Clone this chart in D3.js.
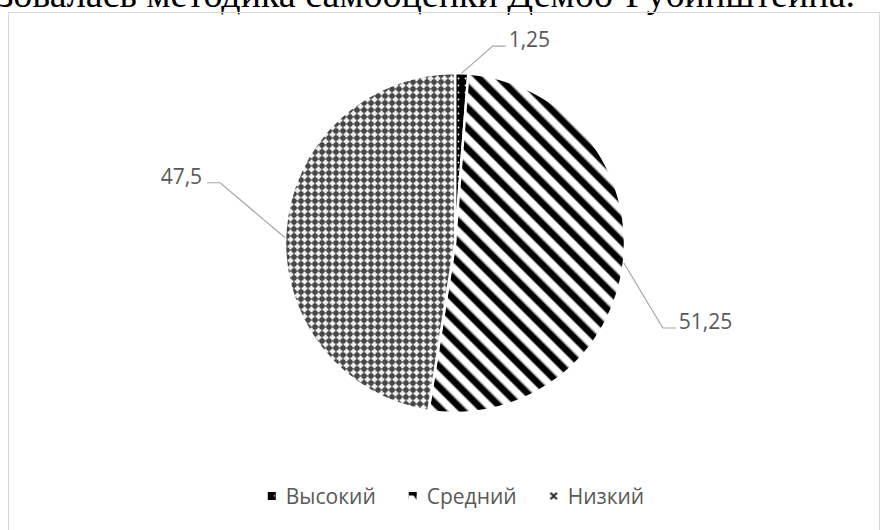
<!DOCTYPE html>
<html><head><meta charset="utf-8">
<script src="https://cdn.jsdelivr.net/npm/d3@7"></script>
<style>html,body{margin:0;padding:0;background:#fff;overflow:hidden}</style>
</head><body>
<svg id="chart" width="884" height="530"></svg>
<script>
// ---- data ----
const categories = ["Высокий", "Средний", "Низкий"];
const values = [1.25, 51.25, 47.5];
const titleText = "зовалась методика самооценки Дембо-Рубинштейна.";

// ---- layout / style ----
const W = 884, H = 530;
const cx = 455, cy = 243, R = 170;
const anchorFrac = [0.5, 0.5, 0.484];          // where on each slice's rim the leader starts
const labelOffsets = [[31, -27], [39, 65], [-65, -55]];
const textColor = "#595959";
const labelFont = "'Open Sans', 'Noto Sans', sans-serif";
const fmt = v => String(v).replace(".", ",");

const svg = d3.select("#chart");
svg.append("rect").attr("width", W).attr("height", H).attr("fill", "#fff");

// patterns
const defs = svg.append("defs");
// Высокий: black with white dots
const pHigh = defs.append("pattern").attr("id", "p0").attr("patternUnits", "userSpaceOnUse")
  .attr("width", 7).attr("height", 7);
pHigh.append("rect").attr("width", 7).attr("height", 7).attr("fill", "#000");
pHigh.append("circle").attr("cx", 3.5).attr("cy", 3.5).attr("r", 0.9).attr("fill", "#fff");
// Средний: wide downward diagonal stripes
const pMid = defs.append("pattern").attr("id", "p1").attr("patternUnits", "userSpaceOnUse")
  .attr("width", 14.5).attr("height", 14.5).attr("patternTransform", "rotate(-45)");
pMid.append("rect").attr("width", 14.5).attr("height", 14.5).attr("fill", "#fff");
pMid.append("rect").attr("x", 0).attr("width", 6.3).attr("height", 14.5).attr("fill", "#000");
pMid.append("rect").attr("x", 6.3).attr("width", 0.8).attr("height", 14.5).attr("fill", "#777");
pMid.append("rect").attr("x", 13.7).attr("width", 0.8).attr("height", 14.5).attr("fill", "#777");
// Низкий: white crosses on dark
const pLow = defs.append("pattern").attr("id", "p2").attr("patternUnits", "userSpaceOnUse")
  .attr("width", 7).attr("height", 7);
pLow.append("rect").attr("width", 7).attr("height", 7).attr("fill", "#464646");
pLow.append("rect").attr("x", 0.7).attr("y", 2.35).attr("width", 5.6).attr("height", 2.3).attr("fill", "#f6f6f6");
pLow.append("rect").attr("x", 2.35).attr("y", 0.7).attr("width", 2.3).attr("height", 5.6).attr("fill", "#f6f6f6");
pLow.append("rect").attr("x", 0).attr("y", 3).attr("width", 0.7).attr("height", 1).attr("fill", "#999");
pLow.append("rect").attr("x", 3).attr("y", 0).attr("width", 1).attr("height", 0.7).attr("fill", "#999");

// legend swatch patterns (bounding-box based)
const lp0 = defs.append("pattern").attr("id", "lp0").attr("patternContentUnits", "objectBoundingBox")
  .attr("width", 1).attr("height", 1);
lp0.append("rect").attr("width", 1).attr("height", 1).attr("fill", "#000");
lp0.append("rect").attr("x", 0.75).attr("y", 0.4).attr("width", 0.15).attr("height", 0.15).attr("fill", "#fff");
const lp1 = defs.append("pattern").attr("id", "lp1").attr("patternContentUnits", "objectBoundingBox")
  .attr("width", 1).attr("height", 1);
lp1.append("rect").attr("width", 1).attr("height", 1).attr("fill", "#fff");
lp1.append("polygon").attr("points", "0,0 1,0 1,1 0.6,0.45 0,0.45").attr("fill", "#000");
const lp2 = defs.append("pattern").attr("id", "lp2").attr("patternContentUnits", "objectBoundingBox")
  .attr("width", 1).attr("height", 1);
lp2.append("rect").attr("width", 1).attr("height", 1).attr("fill", "#fff");
lp2.append("path").attr("d", "M0.1,0.1L0.9,0.9M0.9,0.1L0.1,0.9").attr("stroke", "#333").attr("stroke-width", 0.28);

// title (cut off at top)
svg.append("text").attr("x", 855).attr("y", 7)
  .attr("text-anchor", "end")
  .attr("font-family", "'Liberation Serif', 'Times New Roman', serif")
  .attr("font-size", 38).attr("fill", "#000")
  .text(titleText);

// chart border
svg.append("rect").attr("x", 8.5).attr("y", 12.5).attr("width", 871).attr("height", 600)
  .attr("fill", "none").attr("stroke", "#d9d9d9").attr("stroke-width", 1);

// pie
const pie = d3.pie().sort(null).value(d => d)(values);
const arc = d3.arc().innerRadius(0).outerRadius(R);
const g = svg.append("g").attr("transform", `translate(${cx},${cy})`);
g.selectAll("path.slice").data(pie).enter().append("path")
  .attr("class", "slice")
  .attr("d", arc)
  .attr("fill", (d, i) => `url(#p${i})`)
  .attr("stroke", "#fff").attr("stroke-width", 2.5).attr("stroke-linejoin", "round");

// labels with leader lines
pie.forEach((d, i) => {
  const a = d.startAngle + (d.endAngle - d.startAngle) * anchorFrac[i];
  const px = R * Math.sin(a), py = -R * Math.cos(a);
  const bx = px + labelOffsets[i][0], by = py + labelOffsets[i][1];
  const right = bx >= 0;
  const ex = bx + (right ? 13 : -13);
  g.append("polyline")
    .attr("points", `${px},${py} ${bx},${by} ${ex},${by}`)
    .attr("fill", "none").attr("stroke", "#a6a6a6").attr("stroke-width", 1.2);
  g.append("text")
    .attr("x", right ? ex + 3 : ex - 5).attr("y", by + 1)
    .attr("text-anchor", right ? "start" : "end")
    .attr("font-family", labelFont).attr("font-size", 21).attr("fill", textColor)
    .text(fmt(values[i]));
});

// legend
const lg = svg.append("g");
const items = categories.map((c, i) => {
  const it = lg.append("g");
  it.append("rect").attr("x", 0).attr("y", -4).attr("width", 8).attr("height", 8)
    .attr("fill", `url(#lp${i})`);
  const t = it.append("text").attr("x", 18).attr("y", 7.5)
    .attr("font-family", labelFont).attr("font-size", 21).attr("fill", textColor)
    .text(c);
  return { g: it, w: 18 + t.node().getComputedTextLength() };
});
const gap = 33;
const total = d3.sum(items, d => d.w) + gap * (items.length - 1);
let x0 = cx + 1 - total / 2;
items.forEach(it => {
  it.g.attr("transform", `translate(${x0},496)`);
  x0 += it.w + gap;
});
</script>
</body></html>
